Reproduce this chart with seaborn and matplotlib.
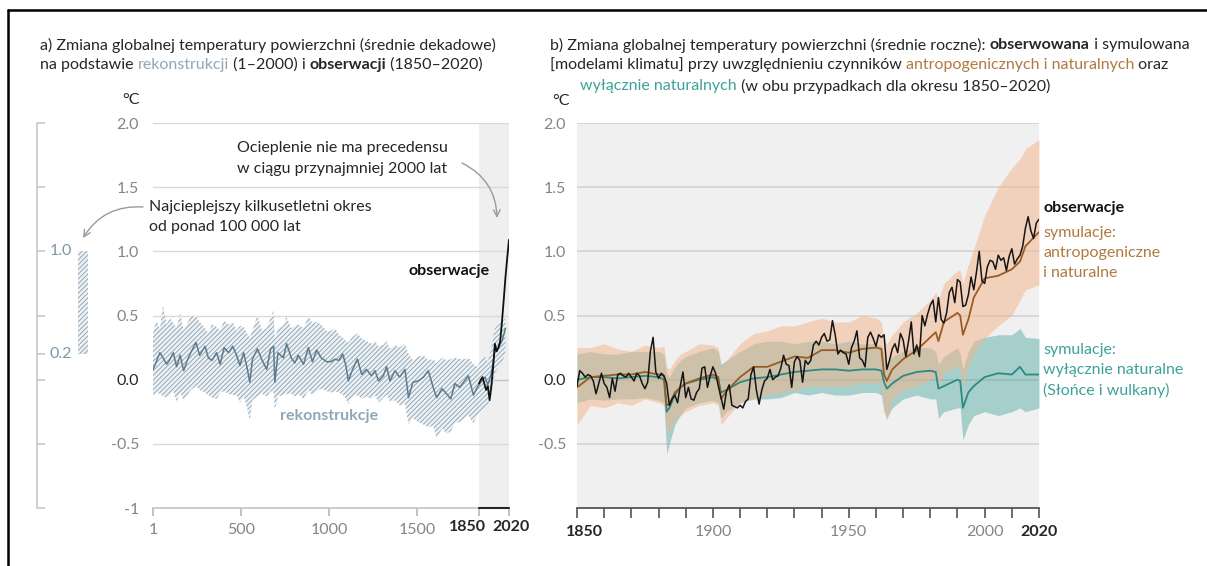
import matplotlib
matplotlib.use("Agg")
import matplotlib.pyplot as plt
import seaborn as sns
from matplotlib.lines import Line2D
from matplotlib.text import Annotation
from matplotlib.transforms import ScaledTranslation

# ---------------- data ----------------
# Panel a: temperature reconstruction (decadal), °C relative to 1850-1900
recon_years = [1, 20, 40, 58, 78, 98, 116, 135, 155, 175,
               195, 215, 245, 265, 296, 315, 335, 362, 382, 404,
               430, 453, 475, 494, 515, 535, 550, 565, 593, 620,
               646, 668, 685, 692, 710, 740, 759, 785, 805, 825,
               855, 882, 905, 929, 955, 986, 1010, 1033, 1055, 1077,
               1095, 1109, 1130, 1160, 1185, 1212, 1240, 1260, 1280, 1307,
               1326, 1345, 1373, 1400, 1430, 1450, 1475, 1505, 1535, 1562,
               1590, 1610, 1640, 1666, 1690, 1713, 1740, 1768, 1790, 1818,
               1840, 1860, 1884, 1900, 1920, 1940, 1960, 1980, 2000]
recon_mid = [0.08, 0.14, 0.21, 0.17, 0.12, 0.16, 0.21, 0.10, 0.19, 0.07,
             0.15, 0.21, 0.29, 0.19, 0.26, 0.17, 0.15, 0.21, 0.12, 0.25,
             0.21, 0.26, 0.19, 0.11, 0.21, 0.09, -0.02, 0.16, 0.24, 0.15,
             0.08, 0.24, 0.26, -0.02, 0.21, 0.17, 0.28, 0.17, 0.13, 0.19,
             0.12, 0.25, 0.14, 0.23, 0.17, 0.14, 0.14, 0.16, 0.15, 0.20,
             0.11, -0.01, 0.07, 0.16, 0.04, 0.08, 0.03, 0.07, -0.01, 0.03,
             0.10, -0.01, 0.07, 0.02, 0.08, -0.14, -0.02, -0.01, 0.02, 0.07,
             -0.06, -0.14, -0.07, -0.11, -0.15, -0.03, -0.06, -0.01, 0.03, -0.12,
             -0.06, -0.02, 0.02, -0.04, 0.05, 0.22, 0.25, 0.30, 0.40]
recon_low = [-0.12, -0.10, -0.11, -0.13, -0.14, -0.12, -0.09, -0.17, -0.10, -0.16,
             -0.12, -0.08, -0.05, -0.08, -0.10, -0.12, -0.14, -0.15, -0.10, -0.09,
             -0.11, -0.12, -0.12, -0.18, -0.13, -0.22, -0.32, -0.16, -0.13, -0.11,
             -0.13, -0.09, -0.10, -0.24, -0.13, -0.12, -0.11, -0.11, -0.13, -0.11,
             -0.15, -0.08, -0.12, -0.09, -0.07, -0.09, -0.10, -0.09, -0.10, -0.12,
             -0.15, -0.19, -0.14, -0.12, -0.15, -0.13, -0.15, -0.12, -0.18, -0.14,
             -0.12, -0.17, -0.16, -0.20, -0.19, -0.35, -0.30, -0.33, -0.35, -0.37,
             -0.36, -0.46, -0.38, -0.42, -0.40, -0.34, -0.33, -0.30, -0.28, -0.34,
             -0.28, -0.25, -0.22, -0.20, -0.12, 0.05, 0.10, 0.12, 0.22]
recon_high = [0.36, 0.46, 0.40, 0.58, 0.43, 0.48, 0.44, 0.40, 0.52, 0.38,
              0.44, 0.49, 0.50, 0.45, 0.40, 0.36, 0.43, 0.41, 0.38, 0.46,
              0.43, 0.45, 0.38, 0.42, 0.41, 0.36, 0.33, 0.38, 0.50, 0.38,
              0.40, 0.48, 0.54, 0.32, 0.40, 0.42, 0.49, 0.40, 0.42, 0.43,
              0.40, 0.49, 0.44, 0.45, 0.43, 0.38, 0.38, 0.40, 0.35, 0.33,
              0.30, 0.29, 0.33, 0.36, 0.32, 0.30, 0.28, 0.30, 0.26, 0.27,
              0.30, 0.24, 0.27, 0.25, 0.28, 0.20, 0.15, 0.18, 0.19, 0.15,
              0.16, 0.13, 0.17, 0.15, 0.16, 0.17, 0.16, 0.16, 0.17, 0.12,
              0.10, 0.15, 0.18, 0.14, 0.25, 0.40, 0.43, 0.45, 0.48]

# Panel a: observed decadal means
obs_decade_years = [1850, 1860, 1870, 1880, 1890, 1900, 1910, 1920, 1930,
                    1940, 1950, 1960, 1970, 1980, 1990, 2000, 2010, 2020]
obs_decade = [-0.03, 0.00, 0.02, -0.03, -0.08, -0.05, -0.16, -0.05, 0.10,
              0.28, 0.22, 0.25, 0.30, 0.45, 0.62, 0.80, 0.95, 1.09]

# Warmest multi-century period in more than 100 000 years (range, °C)
warm_period = [0.2, 1.0]

# Panel b: observed annual means 1850-2020
obs_years = list(range(1850, 2021))
obs_annual = [
    -0.05, 0.07, 0.05, 0.02, 0.04, 0.03, -0.01, -0.11, -0.03, 0.05,   # 1850s
    -0.03, -0.06, -0.14, 0.01, -0.09, 0.04, 0.05, 0.03, 0.02, 0.05,   # 1860s
    0.02, -0.01, 0.05, 0.03, -0.03, -0.07, -0.02, 0.22, 0.33, 0.06,   # 1870s
    0.01, 0.05, 0.03, -0.03, -0.20, -0.15, -0.12, -0.18, -0.05, 0.06,  # 1880s
    -0.14, -0.06, -0.15, -0.16, -0.10, -0.07, 0.09, 0.10, -0.06, 0.03,  # 1890s
    0.10, 0.05, -0.05, -0.14, -0.23, -0.09, -0.04, -0.20, -0.21, -0.22,  # 1900s
    -0.20, -0.22, -0.17, -0.15, 0.04, 0.10, -0.08, -0.19, -0.08, -0.01,  # 1910s
    0.01, 0.08, 0.00, 0.02, 0.03, 0.09, 0.19, 0.12, 0.11, -0.06,      # 1920s
    0.14, 0.18, 0.15, -0.02, 0.15, 0.12, 0.15, 0.27, 0.30, 0.27,      # 1930s
    0.33, 0.36, 0.30, 0.31, 0.46, 0.35, 0.20, 0.23, 0.21, 0.20,       # 1940s
    0.12, 0.25, 0.30, 0.38, 0.17, 0.15, 0.10, 0.33, 0.37, 0.32,       # 1950s
    0.26, 0.35, 0.33, 0.35, 0.08, 0.15, 0.24, 0.28, 0.21, 0.36,       # 1960s
    0.31, 0.18, 0.30, 0.45, 0.20, 0.27, 0.18, 0.50, 0.42, 0.51,       # 1970s
    0.58, 0.62, 0.45, 0.64, 0.47, 0.44, 0.52, 0.68, 0.72, 0.60,       # 1980s
    0.78, 0.76, 0.57, 0.58, 0.66, 0.80, 0.70, 0.84, 1.00, 0.77,       # 1990s
    0.75, 0.88, 0.93, 0.92, 0.86, 0.97, 0.93, 0.95, 0.85, 0.96,       # 2000s
    1.02, 0.90, 0.94, 0.97, 1.04, 1.18, 1.27, 1.16, 1.10, 1.22,       # 2010s
    1.25,                                                            # 2020
]

# Panel b: model simulations (multi-model mean and very likely range)
sim_years = [1850, 1855, 1860, 1865, 1870, 1875, 1880, 1882, 1883, 1884,
             1886, 1888, 1890, 1895, 1900, 1902, 1903, 1905, 1910, 1915,
             1920, 1925, 1930, 1935, 1940, 1945, 1950, 1955, 1960, 1962,
             1963, 1964, 1966, 1970, 1975, 1980, 1982, 1983, 1985, 1990,
             1991, 1992, 1994, 1996, 2000, 2005, 2010, 2013, 2015, 2020]
sim_all_mid = [-0.06, 0.02, 0.03, 0.04, 0.04, 0.06, 0.04, 0.03, -0.20, -0.19,
               -0.10, -0.06, -0.03, 0.01, 0.04, 0.02, -0.15, -0.09, 0.02, 0.10,
               0.10, 0.14, 0.18, 0.17, 0.23, 0.23, 0.21, 0.24, 0.25, 0.24,
               0.04, -0.01, 0.08, 0.16, 0.23, 0.33, 0.37, 0.30, 0.45, 0.52,
               0.50, 0.35, 0.47, 0.64, 0.79, 0.81, 0.86, 0.92, 1.04, 1.15]
sim_all_low = [-0.35, -0.20, -0.22, -0.18, -0.20, -0.15, -0.18, -0.20, -0.40, -0.40,
               -0.32, -0.28, -0.25, -0.20, -0.18, -0.20, -0.35, -0.30, -0.18, -0.15,
               -0.12, -0.10, -0.08, -0.05, -0.05, -0.05, -0.05, -0.02, -0.03, -0.02,
               -0.25, -0.32, -0.15, -0.08, -0.05, 0.00, 0.02, -0.05, 0.05, 0.10,
               0.08, -0.05, 0.10, 0.20, 0.32, 0.42, 0.50, 0.62, 0.70, 0.74]
sim_all_high = [0.25, 0.25, 0.28, 0.24, 0.22, 0.27, 0.25, 0.26, 0.10, 0.08,
                0.15, 0.20, 0.22, 0.28, 0.27, 0.25, 0.10, 0.15, 0.28, 0.36,
                0.38, 0.42, 0.42, 0.45, 0.48, 0.45, 0.45, 0.50, 0.48, 0.45,
                0.30, 0.28, 0.35, 0.45, 0.52, 0.62, 0.68, 0.62, 0.75, 0.85,
                0.85, 0.75, 0.90, 1.02, 1.28, 1.50, 1.65, 1.72, 1.80, 1.87]
sim_nat_mid = [0.00, 0.02, 0.02, 0.01, 0.02, 0.03, 0.02, 0.00, -0.25, -0.22,
               -0.12, -0.06, -0.03, 0.00, 0.02, 0.00, -0.10, -0.08, -0.02, 0.01,
               0.02, 0.04, 0.06, 0.07, 0.08, 0.08, 0.07, 0.08, 0.08, 0.07,
               -0.02, -0.07, -0.03, 0.03, 0.06, 0.07, 0.06, -0.07, -0.05, 0.00,
               -0.01, -0.22, -0.10, -0.05, 0.02, 0.05, 0.04, 0.10, 0.04, 0.04]
sim_nat_low = [-0.18, -0.15, -0.16, -0.15, -0.15, -0.14, -0.16, -0.18, -0.58, -0.50,
               -0.35, -0.28, -0.22, -0.18, -0.16, -0.18, -0.30, -0.25, -0.18, -0.15,
               -0.15, -0.14, -0.10, -0.12, -0.10, -0.12, -0.12, -0.10, -0.10, -0.12,
               -0.25, -0.30, -0.22, -0.15, -0.12, -0.15, -0.15, -0.30, -0.25, -0.22,
               -0.22, -0.47, -0.35, -0.28, -0.25, -0.28, -0.25, -0.22, -0.25, -0.22]
sim_nat_high = [0.20, 0.22, 0.20, 0.20, 0.22, 0.22, 0.22, 0.20, 0.05, 0.02,
                0.10, 0.15, 0.18, 0.22, 0.25, 0.22, 0.12, 0.15, 0.22, 0.28,
                0.30, 0.30, 0.28, 0.30, 0.30, 0.28, 0.30, 0.28, 0.28, 0.26,
                0.18, 0.12, 0.18, 0.22, 0.25, 0.25, 0.22, 0.12, 0.18, 0.25,
                0.20, 0.08, 0.22, 0.30, 0.33, 0.35, 0.35, 0.40, 0.33, 0.32]

# Axis ticks
y_ticks = [-1, -0.5, 0.0, 0.5, 1.0, 1.5, 2.0]
y_labels = ["-1", "-0.5", "0.0", "0.5", "1.0", "1.5", "2.0"]
a_xticks = [1, 500, 1000, 1500]
b_xticks = list(range(1850, 2021, 10))
b_xlabels = {1850: "1850", 1900: "1900", 1950: "1950", 2000: "2000", 2020: "2020"}

# ---------------- style ----------------
sns.set_theme(style="white")
plt.rcParams["font.family"] = ["Lato", "DejaVu Sans"]
plt.rcParams["hatch.linewidth"] = 0.7
plt.rcParams["xtick.bottom"] = True

DARK = "#262626"
GREY = "#858585"
SLATE = "#90a7b8"
SLATE_LINE = "#5e7a8c"
BROWN_TXT = "#b07a40"
BROWN_LINE = "#9a5c22"
TEAL_TXT = "#3fa29a"
TEAL_LINE = "#2b8a84"
FS = 11.5

W, H = 1207, 566
fig = plt.figure(figsize=(W / 100, H / 100), dpi=100)
fig.patch.set_facecolor("white")


def fx(px):
    return px / W


def fy(py):
    return 1 - py / H


def text_width(s, **kw):
    r = fig.canvas.get_renderer()
    t1 = fig.text(0, 0, s + "x", **kw)
    t2 = fig.text(0, 0, "x", **kw)
    w = t1.get_window_extent(r).width - t2.get_window_extent(r).width
    t1.remove()
    t2.remove()
    return w


def rich_line(x_px, y_px, parts, size=FS):
    x = x_px
    for s, color, weight in parts:
        kw = dict(fontsize=size, fontweight=weight)
        fig.text(fx(x), fy(y_px), s, color=color, va="center", ha="left", **kw)
        x += text_width(s, **kw)


# frame lines
fig.add_artist(Line2D([fx(8), fx(8)], [0, fy(10)], transform=fig.transFigure,
                      color="black", lw=1.8))
fig.add_artist(Line2D([fx(8), 1], [fy(10), fy(10)], transform=fig.transFigure,
                      color="black", lw=1.8))

# ---------------- panel a ----------------
axA = fig.add_axes([fx(153), fy(508), (509 - 153) / W, (508 - 123) / H])
axA.set_xlim(1, 2020)
axA.set_ylim(-1, 2)
axA.set_facecolor("none")
axA.axvspan(obs_decade_years[0], obs_decade_years[-1], color="#efefef", lw=0, zorder=0)
axA.set_yticks(y_ticks)
axA.set_yticklabels(y_labels)
axA.yaxis.grid(True, color="#d9d9d9", lw=1.0, zorder=0.5)
axA.get_ygridlines()[2].set_color("#c4c4c4")
axA.get_ygridlines()[0].set_visible(False)

axA.fill_between(recon_years, recon_low, recon_high, facecolor="#eef2f5",
                 edgecolor=SLATE, hatch="///////", lw=0, zorder=2)
sns.lineplot(x=recon_years, y=recon_mid, ax=axA, color=SLATE_LINE, lw=1.1, zorder=3)
sns.lineplot(x=obs_decade_years, y=obs_decade, ax=axA, color="#111111", lw=1.3, zorder=4)
axA.set_xlabel("")
axA.set_ylabel("")

for s in ["top", "right", "left"]:
    axA.spines[s].set_visible(False)
axA.spines["bottom"].set_color("#c4c4c4")
axA.spines["bottom"].set_linewidth(1.2)
axA.tick_params(axis="y", left=False, length=0, pad=10, labelsize=FS, labelcolor=GREY)
axA.get_yticklabels()[2].set_color(DARK)
axA.set_xticks(a_xticks + [obs_decade_years[0], obs_decade_years[-1]])
axA.set_xticklabels([str(v) for v in a_xticks] + ["", ""])
axA.tick_params(axis="x", bottom=True, direction="out", length=6, width=1.3,
                color="#bdbdbd", labelcolor=GREY, labelsize=FS, pad=5)
for t in axA.xaxis.get_major_ticks()[-2:]:
    t.tick1line.set_color(DARK)
    t.tick1line.set_zorder(7)
axA.plot([obs_decade_years[0], obs_decade_years[-1]], [-1, -1], color=DARK, lw=1.5,
         clip_on=False, zorder=6)
for yr, dx in [(obs_decade_years[0], -12), (obs_decade_years[-1], 2)]:
    axA.annotate(str(yr), xy=(yr, 0), xycoords=axA.get_xaxis_transform(),
                 xytext=(dx, -19), textcoords="offset pixels", ha="center", va="center",
                 fontsize=FS, fontweight="bold", color=DARK)

fig.text(fx(131), fy(100), "°C", ha="center", va="center", fontsize=FS, color=DARK)

axA.text(1912, 0.85, "obserwacje", ha="right", va="center", fontsize=FS,
         fontweight="bold", color="#111111")
axA.text(1000, -0.28, "rekonstrukcje", ha="center", va="center", fontsize=FS,
         fontweight="bold", color=SLATE)

# left scale with the warm-period bar
ax0 = fig.add_axes([fx(37), fy(508), 63 / W, (508 - 123) / H])
ax0.set_xlim(0, 1)
ax0.set_ylim(-1, 2)
ax0.set_facecolor("none")
for s in ["top", "right", "bottom"]:
    ax0.spines[s].set_visible(False)
ax0.spines["left"].set_color("#c8c8c8")
ax0.spines["left"].set_linewidth(1.2)
ax0.set_xticks([])
ax0.set_yticks(sorted(set(y_ticks + warm_period)))
ax0.set_yticklabels([])
ax0.tick_params(axis="y", left=True, direction="in", length=6, width=1.2, color="#c8c8c8")
ax0.bar(0.73, warm_period[1] - warm_period[0], bottom=warm_period[0], width=0.16,
        facecolor="#eef2f5", edgecolor=SLATE, hatch="///////", lw=0)
for v in warm_period:
    ax0.text(0.38, v, f"{v:.1f}", ha="center", va="center", fontsize=FS, color="#7d96a7")

# annotations in panel a
fig.text(fx(237), fy(148), "Ocieplenie nie ma precedensu", ha="left", va="center",
         fontsize=FS, color=DARK)
fig.text(fx(237), fy(169), "w ciągu przynajmniej 2000 lat", ha="left", va="center",
         fontsize=FS, color=DARK)
fig.text(fx(149), fy(207), "Najcieplejszy kilkusetletni okres", ha="left", va="center",
         fontsize=FS, color=DARK)
fig.text(fx(149), fy(227), "od ponad 100 000 lat", ha="left", va="center",
         fontsize=FS, color=DARK)
arrow_kw = dict(arrowstyle="->", color="#9a9a9a", lw=1.0, shrinkA=0, shrinkB=0)
fig.add_artist(Annotation(
    "", xy=(497, H - 218), xytext=(462, H - 163), xycoords="figure pixels",
    textcoords="figure pixels",
    arrowprops=dict(connectionstyle="arc3,rad=-0.3", **arrow_kw)))
fig.add_artist(Annotation(
    "", xy=(83, H - 238), xytext=(143, H - 207), xycoords="figure pixels",
    textcoords="figure pixels",
    arrowprops=dict(connectionstyle="arc3,rad=0.3", **arrow_kw)))

# ---------------- panel b ----------------
axB = fig.add_axes([fx(577), fy(508), (1039 - 577) / W, (508 - 123) / H])
axB.set_xlim(1850, 2020)
axB.set_ylim(-1, 2)
axB.set_facecolor("#f0f0f0")
axB.set_yticks(y_ticks)
axB.set_yticklabels([""] + y_labels[1:])
axB.yaxis.grid(True, color="#d3d3d3", lw=1.2, zorder=0.5)
axB.get_ygridlines()[2].set_color("#c2c2c2")
axB.get_ygridlines()[0].set_visible(False)
axB.set_axisbelow(True)

axB.fill_between(sim_years, sim_nat_low, sim_nat_high, color="#75b9b4", alpha=0.6,
                 lw=0, zorder=1)
axB.fill_between(sim_years, sim_all_low, sim_all_high, color="#f5b48a", alpha=0.5,
                 lw=0, zorder=1.5)
sns.lineplot(x=sim_years, y=sim_nat_mid, ax=axB, color=TEAL_LINE, lw=1.3, zorder=3)
sns.lineplot(x=sim_years, y=sim_all_mid, ax=axB, color=BROWN_LINE, lw=1.3, zorder=3)
sns.lineplot(x=obs_years, y=obs_annual, ax=axB, color="#151515", lw=1.1, zorder=4)
axB.set_xlabel("")
axB.set_ylabel("")

for s in ["top", "right", "left"]:
    axB.spines[s].set_visible(False)
axB.spines["bottom"].set_color("#555555")
axB.spines["bottom"].set_linewidth(1.3)
axB.set_xticks(b_xticks)
axB.set_xticklabels([b_xlabels.get(v, "") for v in b_xticks])
axB.tick_params(axis="x", bottom=True, direction="out", length=7, width=1.2,
                color="#555555", labelcolor=GREY, labelsize=FS, pad=5)
for lab, v in zip(axB.get_xticklabels(), b_xticks):
    if v in (b_xticks[0], b_xticks[-1]):
        lab.set_fontweight("bold")
        lab.set_color(DARK)
    if v == b_xticks[0]:
        lab.set_transform(lab.get_transform() + ScaledTranslation(0.07, 0, fig.dpi_scale_trans))
axB.tick_params(axis="y", left=False, length=0, pad=8, labelsize=FS, labelcolor=GREY)
axB.get_yticklabels()[2].set_color(DARK)

fig.text(fx(561), fy(101), "°C", ha="center", va="center", fontsize=FS, color=DARK)

# series labels at the right of panel b
fig.text(fx(1043), fy(208), "obserwacje", ha="left", va="center", fontsize=FS,
         fontweight="bold", color="#111111")
for i, s in enumerate(["symulacje:", "antropogeniczne", "i naturalne"]):
    fig.text(fx(1043), fy(233 + 20 * i), s, ha="left", va="center", fontsize=FS,
             color=BROWN_TXT)
for i, s in enumerate(["symulacje:", "wyłącznie naturalne", "(Słońce i wulkany)"]):
    fig.text(fx(1043), fy(350 + 20 * i), s, ha="left", va="center", fontsize=FS,
             color=TEAL_TXT)

# ---------------- titles ----------------
rich_line(40, 45, [("a) Zmiana globalnej temperatury powierzchni (średnie dekadowe)", DARK, "normal")])
rich_line(40, 65, [("na podstawie ", DARK, "normal"), ("rekonstrukcji", SLATE, "normal"),
                   (" (1–2000) i ", DARK, "normal"), ("obserwacji", DARK, "bold"),
                   (" (1850–2020)", DARK, "normal")])
rich_line(550, 45, [("b) Zmiana globalnej temperatury powierzchni (średnie roczne): ", DARK, "normal"),
                    ("obserwowana", DARK, "bold"), (" i symulowana", DARK, "normal")])
rich_line(550, 65, [("[modelami klimatu] przy uwzględnieniu czynników ", DARK, "normal"),
                    ("antropogenicznych i naturalnych", BROWN_TXT, "normal"),
                    (" oraz", DARK, "normal")])
rich_line(580, 86, [("wyłącznie naturalnych", TEAL_TXT, "normal"),
                    (" (w obu przypadkach dla okresu 1850–2020)", DARK, "normal")])

fig.savefig("out.png", dpi=100, facecolor="white")
